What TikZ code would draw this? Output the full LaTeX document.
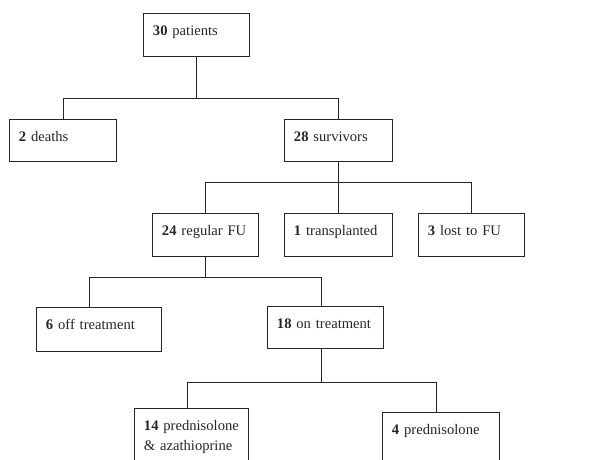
\documentclass[tikz,border=0pt]{standalone}
\usepackage{fontspec}
\setmainfont{Liberation Serif}
\usepackage{tikz}

\begin{document}
\begin{tikzpicture}[x=1pt, y=-1pt, color=black!85, line width=0.9pt,
	box/.style 2 args={rectangle, draw, anchor=north west, align=left,
		font=\fontsize{14.6}{20}\selectfont, inner xsep=9.5pt, inner ysep=8pt,
		text height=14pt, text width=#1, text depth=#2}]
				\useasboundingbox (0,0) rectangle (614,459);
				\clip (0,0) rectangle (614,459);
				
				\node[box={87pt}{13pt}] (pat) at (143,13) {\textbf{30} patients};
				
				\node[box={88pt}{12pt}] (dth) at (9,119) {\textbf{2} deaths};
				\node[box={89pt}{12pt}] (srv) at (284,119) {\textbf{28} survivors};
				
				\node[box={87pt}{13pt}] (reg) at (152,213) {\textbf{24} regular FU};
				\node[box={89pt}{13pt}] (tra) at (284,213) {\textbf{1} transplanted};
				\node[box={87pt}{13pt}] (lst) at (418,213) {\textbf{3} lost to FU};
				
				\node[box={106pt}{14pt}] (off) at (36,307) {\textbf{6} off treatment};
				\node[box={97pt}{12pt}] (ont) at (267,306) {\textbf{18} on treatment};
				
				\node[box={95pt}{42pt}] (paz) at (134,408) {\textbf{14} prednisolone\\\& azathioprine};
				\node[box={98pt}{42pt}] (prd) at (382,412) {\textbf{4} prednisolone};
				
				\draw (pat.south) -- ++(0,42) coordinate (j1);
				\draw (dth.north) |- (j1) -| (srv.north);
				
				\draw (srv.south) -- ++(0,21) coordinate (j2);
				\draw (reg.north) |- (j2) -| (lst.north);
				\draw (j2) -- (tra.north);
				
				\draw (reg.south) -- ++(0,21) coordinate (j3);
				\draw ([xshift=-9.5pt]off.north) |- (j3) -| ([xshift=-4pt]ont.north);
				
				\draw ([xshift=-4pt]ont.south) -- ++(0,34) coordinate (j4);
				\draw ([xshift=-4pt]paz.north) |- (j4) -| ([xshift=-4.5pt]prd.north);
				\end{tikzpicture}
\end{document}
